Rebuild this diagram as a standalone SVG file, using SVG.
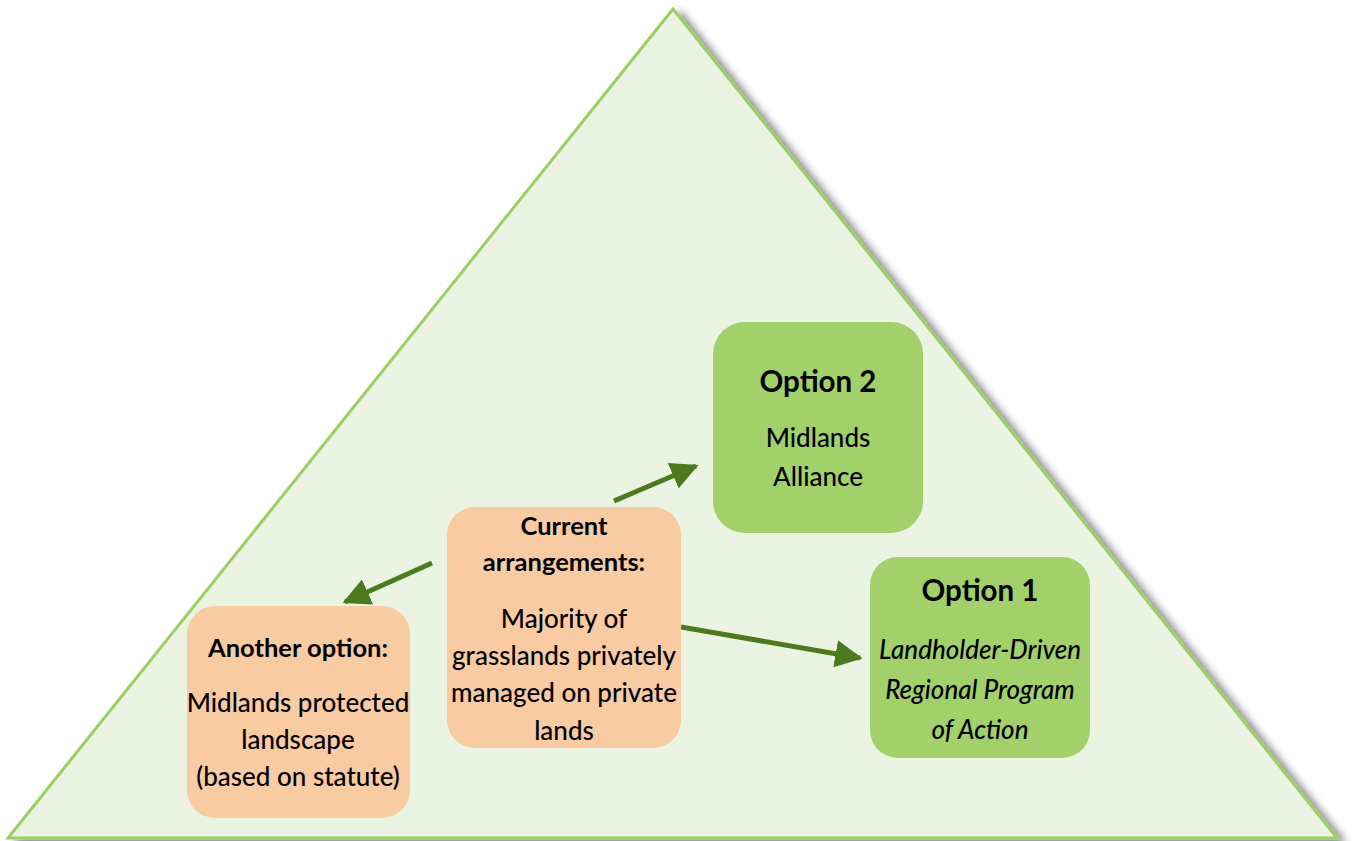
<svg xmlns="http://www.w3.org/2000/svg" width="1361" height="841" viewBox="0 0 1361 841">
<defs>
<filter id="sh" x="-5%" y="-5%" width="115%" height="115%">
<feGaussianBlur in="SourceAlpha" stdDeviation="4"/>
<feOffset dx="7" dy="4" result="b"/>
<feComponentTransfer><feFuncA type="linear" slope="0.5"/></feComponentTransfer>
<feMerge><feMergeNode/><feMergeNode in="SourceGraphic"/></feMerge>
</filter>
<marker id="ah" viewBox="0 0 10 10" refX="9" refY="5" markerWidth="5.5" markerHeight="5.5" markerUnits="strokeWidth" orient="auto">
<path d="M0,0 L10,5 L0,10 z" fill="#4e7a1f"/>
</marker>
<style>
text{font-family:Lato,"Open Sans","Liberation Sans",sans-serif;fill:#000;text-anchor:middle;font-size:26px;font-weight:500}
.h{font-weight:bold;font-size:25.5px}
.big{font-weight:bold;font-size:29.5px}
.it{font-style:italic}
.g{fill:#a2d06a}
.o{fill:#f9cba3}
.c{stroke:#4e7a1f;stroke-width:5;fill:none;marker-end:url(#ah)}
</style>
</defs>
<g id="triangle">
<polygon points="673,9 8,838 1337,838" fill="#ebf4e2" stroke="#9ccf63" stroke-width="3" filter="url(#sh)"/>
</g>
<g id="connectors">
<line class="c" x1="614" y1="501" x2="696" y2="466"/>
<line class="c" x1="432" y1="563" x2="345" y2="602"/>
<line class="c" x1="681" y1="627" x2="860" y2="658"/>
</g>
<g id="option2">
<rect class="g" x="713" y="322" width="210" height="211" rx="32"/>
<text class="big" x="818" y="392">Option 2</text>
<text x="818" y="447">Midlands</text>
<text x="818" y="486">Alliance</text>
</g>
<g id="current">
<rect class="o" x="447" y="507" width="234" height="241" rx="28"/>
<text class="h" x="564" y="535">Current</text>
<text class="h" x="564" y="571">arrangements:</text>
<text x="564" y="628">Majority of</text>
<text x="564" y="665">grasslands privately</text>
<text x="564" y="702">managed on private</text>
<text x="564" y="740">lands</text>
</g>
<g id="another">
<rect class="o" x="187" y="606" width="223" height="212" rx="28"/>
<text class="h" x="298" y="657">Another option:</text>
<text x="298" y="712">Midlands protected</text>
<text x="298" y="749">landscape</text>
<text x="298" y="786">(based on statute)</text>
</g>
<g id="option1">
<rect class="g" x="870" y="557" width="220" height="201" rx="28"/>
<text class="big" x="980" y="601">Option 1</text>
<text class="it" x="980" y="659">Landholder-Driven</text>
<text class="it" x="980" y="699">Regional Program</text>
<text class="it" x="980" y="739">of Action</text>
</g>
</svg>
